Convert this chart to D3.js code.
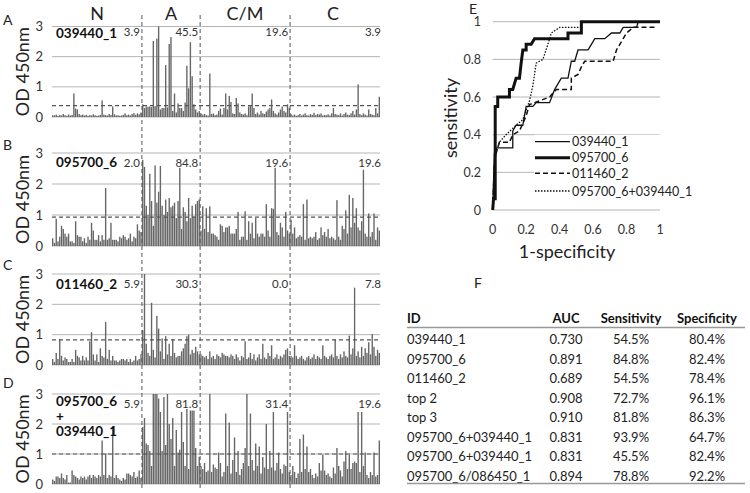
<!DOCTYPE html>
<html><head><meta charset="utf-8">
<script src="https://cdn.jsdelivr.net/npm/d3@7/dist/d3.min.js"></script>
<style>body{margin:0;background:#fff;}svg{display:block;font-family:Lato,"Open Sans",sans-serif;}</style>
</head><body><svg id="c" width="750" height="493"></svg>
<script>
// ---------- DATA ----------
const groups = ["N", "A", "C/M", "C"];
const groupSizes = [51, 33, 51, 51];
const yTicks = [0, 1, 2, 3];
const panelLetters = ["A", "B", "C", "D"];
const panelIds = [["039440_1"], ["095700_6"], ["011460_2"], ["095700_6", "+", "039440_1"]];
const thresholds = [0.38, 0.93, 0.83, 1.0];
const pctLabels = [["3.9","45.5","19.6","3.9"],["2.0","84.8","19.6","19.6"],["5.9","30.3","0.0","7.8"],["5.9","81.8","31.4","19.6"]];

// panel A: 039440_1
const aN = [0.06,0.05,0.08,0.04,0.07,0.05,0.10,0.06,0.04,0.08,0.05,0.07,0.78,0.28,0.25,0.10,0.06,0.08,0.05,0.07,0.04,0.06,0.05,0.09,0.06,0.04,0.05,0.07,0.55,0.08,0.06,0.05,0.10,0.07,0.35,0.09,0.05,0.06,0.04,0.05,0.07,0.12,0.06,0.08,0.05,0.10,0.13,0.07,0.12,0.09,0.15];
const aA = [0.42,0.30,0.35,0.34,0.35,0.33,2.52,0.36,2.60,3.00,0.25,0.30,0.30,1.72,0.32,2.42,2.65,0.20,0.78,0.15,0.45,0.30,0.30,0.20,0.48,1.70,0.95,2.48,1.35,0.42,0.25,0.15,0.20];
const aCM = [0.12,0.08,0.10,0.06,0.05,1.44,0.10,0.12,0.06,0.08,0.20,0.28,0.08,0.30,0.78,0.25,0.70,0.50,0.12,0.10,0.63,0.45,0.15,0.10,0.08,0.12,0.06,0.35,0.40,0.78,0.30,0.10,0.15,0.08,0.20,0.12,0.10,0.18,0.25,0.30,0.58,0.20,0.12,0.08,0.15,0.25,0.35,0.20,0.15,0.42,0.30];
const aC = [0.10,0.05,0.08,0.04,0.06,0.10,0.05,0.08,0.12,0.06,0.05,0.10,0.07,0.14,0.06,0.10,0.08,0.12,0.05,0.07,0.06,0.09,0.05,0.12,0.30,0.10,0.08,0.06,0.12,0.05,0.10,0.15,0.08,0.06,0.12,0.20,0.08,0.25,1.08,0.10,0.06,0.12,0.08,0.05,0.25,0.10,0.08,0.06,0.30,0.12,0.67];
// panel B: 095700_6
const bN = [0.25,0.10,0.88,0.15,0.30,0.65,0.55,0.40,0.30,0.40,0.15,0.15,0.10,0.80,0.35,0.30,0.30,0.15,0.25,0.10,0.30,0.20,0.75,0.50,0.20,0.20,0.35,0.15,0.35,0.20,1.87,0.20,0.25,0.75,0.20,0.20,0.20,0.15,0.30,0.25,0.35,0.30,0.20,0.25,0.40,0.15,0.30,0.25,0.70,0.50,0.45];
const bA = [2.78,2.55,1.30,1.00,2.33,1.45,0.65,2.60,1.40,1.75,2.58,1.30,1.00,1.50,1.10,1.55,1.25,1.30,1.40,0.90,1.45,2.52,0.55,1.25,1.10,0.80,1.55,0.90,1.30,0.95,1.35,1.45,1.50];
const bCM = [0.50,1.28,0.55,1.22,0.45,1.28,0.40,0.40,0.35,0.30,0.20,0.70,0.65,0.45,0.60,0.60,0.65,0.40,0.40,0.40,0.55,1.10,0.20,0.30,0.30,1.12,0.20,0.80,0.40,0.75,0.25,0.90,0.40,0.30,0.40,0.40,0.30,1.35,0.50,0.30,1.22,1.20,2.52,0.45,0.35,0.75,0.60,0.30,1.10,0.50,0.40];
const bC = [0.85,0.40,0.60,0.25,0.30,0.35,0.30,1.35,0.20,1.50,0.25,0.30,0.25,0.30,0.45,0.20,0.25,0.60,0.35,0.45,0.30,0.55,0.25,0.30,0.25,0.20,1.48,0.30,0.20,0.65,0.55,1.15,0.40,1.65,0.60,1.55,0.75,1.22,0.60,0.50,0.80,2.46,0.40,0.30,1.05,0.30,0.45,1.05,0.20,0.60,0.50];
// panel C: 011460_2
const cN = [0.20,0.10,0.40,0.20,0.86,0.30,0.15,0.25,0.20,0.10,0.10,0.20,0.10,0.50,0.30,0.25,0.15,0.30,0.15,0.25,0.15,0.78,1.08,0.35,0.15,0.35,0.10,0.55,0.30,0.25,1.42,0.20,0.50,0.15,0.30,0.15,0.15,0.10,0.15,0.20,0.20,0.15,0.20,0.10,0.20,0.10,0.15,0.30,0.15,0.20,0.35];
const cA = [1.15,3.00,0.70,0.40,0.30,2.05,0.50,0.25,1.62,1.20,0.45,0.88,0.20,0.95,0.35,0.70,0.30,0.86,0.40,0.25,0.30,0.30,0.45,0.55,0.70,0.95,1.00,0.35,0.50,0.40,0.60,0.45,0.35];
const cCM = [0.35,0.30,0.25,0.30,0.20,0.45,0.25,0.30,0.20,0.35,0.30,0.25,0.40,0.35,0.30,0.30,0.25,0.35,0.30,0.20,0.35,0.25,0.15,0.30,0.25,0.78,0.20,0.25,0.40,0.20,0.35,0.15,0.25,0.35,0.20,0.70,0.25,0.20,0.40,0.30,0.65,0.20,0.25,0.35,0.20,0.30,0.25,0.35,0.50,0.55,0.30];
const cC = [0.30,0.25,0.65,0.30,0.20,0.25,0.30,0.20,0.15,0.25,0.30,0.20,0.25,0.35,0.20,0.30,0.25,0.20,0.65,0.30,0.25,0.20,0.30,0.35,0.25,0.85,0.30,0.20,0.35,0.25,0.45,0.30,0.25,0.97,0.35,0.55,2.55,0.30,0.45,0.25,0.60,0.30,0.55,0.40,0.75,0.35,1.02,0.60,0.30,0.50,0.40];
// panel D: 095700_6 + 039440_1
const dN = [0.15,0.10,0.25,0.25,0.20,0.35,0.20,0.15,0.30,0.05,0.05,0.45,0.30,0.25,0.20,0.15,0.25,0.20,0.25,0.15,0.25,0.30,0.20,0.30,0.25,0.20,0.30,0.25,1.45,0.30,1.02,0.20,0.30,0.25,1.92,0.20,0.30,0.20,0.15,0.10,0.20,0.15,0.35,0.35,0.30,0.25,0.40,0.20,0.25,0.45,0.20];
const dA = [1.90,2.20,1.35,1.30,1.10,0.60,3.00,3.00,3.00,2.85,2.40,1.10,2.90,1.30,3.00,2.00,1.50,2.20,0.60,1.80,1.05,1.15,2.40,1.40,0.60,2.50,0.50,2.45,2.45,2.45,1.20,0.60,0.90];
const dCM = [0.60,0.50,0.70,0.40,0.45,3.00,0.40,0.65,0.55,0.50,1.05,0.70,0.25,0.40,2.35,0.60,2.05,0.35,0.80,1.55,0.40,1.10,0.30,0.50,0.70,1.20,3.00,0.60,2.35,0.80,0.45,1.35,0.60,1.25,0.35,0.90,0.55,2.00,0.50,1.10,0.55,2.40,0.45,0.70,1.05,0.50,0.35,0.65,0.60,2.40,0.40];
const dC = [0.30,0.60,0.40,0.20,0.35,1.50,0.40,1.65,0.50,1.25,0.40,0.50,0.30,0.20,0.35,0.25,0.70,0.45,0.98,0.45,0.30,0.35,0.25,0.20,0.55,0.35,1.20,0.60,0.45,0.25,0.75,1.10,0.50,0.98,0.50,0.70,0.75,0.70,2.40,0.40,2.40,0.60,1.05,0.30,0.20,0.40,0.30,1.05,0.25,0.30,1.45];

// ROC curves (fpr, tpr)
const rocNames = ["039440_1", "095700_6", "011460_2", "095700_6+039440_1"];
const roc039440 = [[0,0],[0.01,0.3],[0.02,0.3],[0.02,0.33],[0.12,0.33],[0.12,0.42],[0.14,0.45],[0.18,0.45],[0.2,0.55],[0.24,0.55],[0.26,0.57],[0.34,0.57],[0.37,0.64],[0.39,0.67],[0.41,0.7],[0.45,0.7],[0.47,0.79],[0.49,0.79],[0.51,0.85],[0.57,0.85],[0.59,0.88],[0.61,0.91],[0.67,0.91],[0.71,0.94],[0.76,0.94],[0.78,0.97],[0.86,0.97],[0.87,1],[1,1]];
const roc095700 = [[0,0],[0.005,0.06],[0.015,0.06],[0.015,0.55],[0.03,0.55],[0.03,0.6],[0.1,0.6],[0.1,0.64],[0.12,0.64],[0.14,0.7],[0.16,0.7],[0.17,0.78],[0.18,0.85],[0.2,0.85],[0.2,0.88],[0.23,0.88],[0.25,0.91],[0.45,0.91],[0.45,0.94],[0.53,0.94],[0.53,1],[1,1]];
const roc011460 = [[0,0],[0.01,0.25],[0.02,0.3],[0.04,0.36],[0.1,0.36],[0.12,0.4],[0.16,0.42],[0.2,0.5],[0.22,0.56],[0.34,0.6],[0.38,0.64],[0.47,0.64],[0.47,0.7],[0.51,0.72],[0.53,0.76],[0.55,0.79],[0.72,0.79],[0.74,0.85],[0.76,0.88],[0.78,0.91],[0.8,0.94],[0.84,0.97],[0.98,0.97]];
const rocCombo = [[0,0],[0.01,0.24],[0.02,0.3],[0.04,0.36],[0.08,0.4],[0.14,0.45],[0.18,0.48],[0.22,0.58],[0.24,0.66],[0.26,0.78],[0.3,0.8],[0.33,0.88],[0.35,0.94],[0.4,0.97],[0.53,0.97],[0.53,1],[1,1]];
const rocTicks = [0, 0.2, 0.4, 0.6, 0.8, 1];

// Table F
const tableHeader = ["ID", "AUC", "Sensitivity", "Specificity"];
const tableIds = ["039440_1","095700_6","011460_2","top 2","top 3","095700_6+039440_1","095700_6+039440_1","095700_6/086450_1"];
const tableAuc = ["0.730","0.891","0.689","0.908","0.910","0.831","0.831","0.894"];
const tableSens = ["54.5%","84.8%","54.5%","72.7%","81.8%","93.9%","45.5%","78.8%"];
const tableSpec = ["80.4%","82.4%","78.4%","96.1%","86.3%","64.7%","82.4%","92.2%"];

// ---------- DRAW ----------
const svg = d3.select("#c");
svg.append("rect").attr("width",750).attr("height",493).attr("fill","#fff");

const panelData = [[aN,aA,aCM,aC],[bN,bA,bCM,bC],[cN,cA,cCM,cC],[dN,dA,dCM,dC]];
const total = d3.sum(groupSizes);
const x = d3.scaleBand().domain(d3.range(total)).range([52,380]).paddingInner(0.22);
const xLin = d3.scaleLinear().domain([0,total]).range([52,380]);
const bounds = [];
let acc = 0; groupSizes.forEach(s => { bounds.push([acc, acc+s]); acc += s; });

const panelTop = [26.5,153,274,394];
const panelBot = [117,246,365,484];
const pctDy = [9,13.5,14,14];
const idBase = [38,167,289,406];
const letterBase = [24.5,149.5,269.5,387.5];

// group headers
groups.forEach((g,i)=>{
  const cx = [97,171,245,333][i];
  svg.append("text").attr("x",cx).attr("y",19.5).attr("text-anchor","middle")
    .attr("font-size",18).attr("fill","#222").text(g);
});

panelData.forEach((gs,p)=>{
  const vals = [].concat(...gs);
  const y = d3.scaleLinear().domain([0,3]).range([panelBot[p],panelTop[p]]);
  const g = svg.append("g");
  yTicks.forEach(t=>{
    g.append("line").attr("x1",52).attr("x2",380).attr("y1",y(t)).attr("y2",y(t))
      .attr("stroke","#b5b5b5").attr("stroke-width",1);
    g.append("text").attr("x",43).attr("y",y(t)+4.5).attr("text-anchor","end")
      .attr("font-size",13).attr("fill","#333").text(t);
  });
  g.selectAll("rect.bar").data(vals).join("rect").attr("class","bar")
    .attr("x",(d,i)=>x(i)).attr("width",x.bandwidth())
    .attr("y",d=>y(Math.min(d,3))).attr("height",d=>y(0)-y(Math.min(d,3)))
    .attr("fill","#666");
  g.append("line").attr("x1",52).attr("x2",380).attr("y1",y(thresholds[p])).attr("y2",y(thresholds[p]))
    .attr("stroke","#555").attr("stroke-width",1.2).attr("stroke-dasharray","4,3");
  bounds.forEach((b,k)=>{
    const xr = k===3 ? 381 : xLin(b[1]) - 2;
    g.append("text").attr("x",xr).attr("y",panelTop[p]+pctDy[p]).attr("text-anchor","end")
      .attr("font-size",11.5).attr("fill","#333").text(pctLabels[p][k]);
  });
  panelIds[p].forEach((t,li)=>{
    g.append("text").attr("x",56).attr("y",idBase[p]+li*15).attr("font-size",13.5)
      .attr("font-weight","bold").attr("fill","#111").text(t);
  });
  svg.append("text").attr("x",3).attr("y",letterBase[p]).attr("font-size",14).attr("fill","#222").text(panelLetters[p]);
  const my = (panelTop[p]+panelBot[p])/2;
  svg.append("text").attr("transform",`translate(22,${my}) rotate(-90)`).attr("text-anchor","middle")
    .attr("dominant-baseline","central").attr("font-size",18).attr("fill","#222").text("OD 450nm");
});

bounds.slice(0,3).forEach(b=>{
  svg.append("line").attr("x1",xLin(b[1])).attr("x2",xLin(b[1])).attr("y1",15).attr("y2",491)
    .attr("stroke","#555").attr("stroke-width",1).attr("stroke-dasharray","4,3");
});

// ---------- ROC (E) ----------
const rx = d3.scaleLinear().domain([0,1]).range([492.7,660]);
const ry = d3.scaleLinear().domain([0,1]).range([210,21.7]);
svg.append("text").attr("x",469).attr("y",14).attr("font-size",14).attr("fill","#222").text("E");
rocTicks.forEach(t=>{
  svg.append("line").attr("x1",rx(0)).attr("x2",rx(1)).attr("y1",ry(t)).attr("y2",ry(t))
    .attr("stroke", "#b5b5b5").attr("stroke-width",1);
  svg.append("text").attr("x",481).attr("y",ry(t)+4.5).attr("text-anchor","end")
    .attr("font-size",12.5).attr("fill","#333").text(t);
  svg.append("text").attr("x",rx(t)).attr("y",233.5).attr("text-anchor","middle")
    .attr("font-size",12.5).attr("fill","#333").text(t);
});
const line = d3.line().x(d=>rx(d[0])).y(d=>ry(d[1]));
const rocStyles = [
  {data:roc039440, w:1.3, dash:null},
  {data:roc095700, w:3, dash:null},
  {data:roc011460, w:1.5, dash:"5,3"},
  {data:rocCombo, w:1.3, dash:"1.5,1.5"}
];
rocStyles.forEach(s=>{
  svg.append("path").attr("d",line(s.data)).attr("fill","none").attr("stroke","#111")
    .attr("stroke-width",s.w).attr("stroke-dasharray",s.dash);
});
const legY = [141.7,157.7,173.3,191];
rocStyles.forEach((s,i)=>{
  svg.append("rect").attr("x",534).attr("y",legY[i]-7).attr("width",135).attr("height",14).attr("fill","#fff");
});
rocStyles.forEach((s,i)=>{
  svg.append("line").attr("x1",535).attr("x2",570).attr("y1",legY[i]).attr("y2",legY[i])
    .attr("stroke","#111").attr("stroke-width",s.w).attr("stroke-dasharray",s.dash);
  svg.append("text").attr("x",572).attr("y",legY[i]+4.5).attr("font-size",12.5).attr("fill","#222").text(rocNames[i]);
});
svg.append("text").attr("transform","translate(450,118) rotate(-90)").attr("text-anchor","middle")
  .attr("dominant-baseline","central").attr("font-size",18).attr("fill","#222").text("sensitivity");
svg.append("text").attr("x",567).attr("y",258).attr("text-anchor","middle")
  .attr("font-size",18).attr("fill","#222").text("1-specificity");

// ---------- TABLE (F) ----------
svg.append("text").attr("x",474).attr("y",288).attr("font-size",14).attr("fill","#222").text("F");
const colX = [407, 566, 631, 707];
const colAnchor = ["start","middle","middle","middle"];
tableHeader.forEach((h,i)=>{
  svg.append("text").attr("x",colX[i]).attr("y",322.5).attr("text-anchor",colAnchor[i])
    .attr("font-size",13).attr("font-weight","bold").attr("fill","#111").text(h);
});
svg.append("line").attr("x1",407).attr("x2",745).attr("y1",327.5).attr("y2",327.5).attr("stroke","#999").attr("stroke-width",1.5);
const rowY = [339.3,359,378.7,398.3,417.7,437,456.7,476];
tableIds.forEach((id,r)=>{
  const cells = [id, tableAuc[r], tableSens[r], tableSpec[r]];
  cells.forEach((c,i)=>{
    svg.append("text").attr("x",colX[i]).attr("y",rowY[r]+4.5).attr("text-anchor",colAnchor[i])
      .attr("font-size",13).attr("fill","#222").text(c);
  });
});
svg.append("line").attr("x1",407).attr("x2",745).attr("y1",483.5).attr("y2",483.5).attr("stroke","#999").attr("stroke-width",1.5);
</script></body></html>
